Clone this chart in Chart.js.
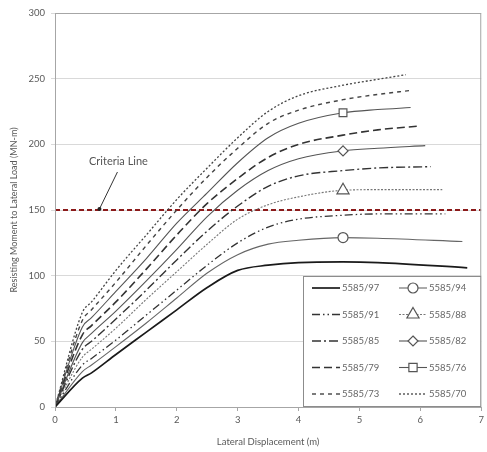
<!DOCTYPE html>
<html>
<head>
<meta charset="utf-8">
<script src="https://cdn.jsdelivr.net/npm/chart.js@4/dist/chart.umd.min.js"></script>
<style>
  html, body { margin: 0; padding: 0; background: #fff; }
  #wrap { width: 487px; height: 452px; position: relative; }
</style>
</head>
<body>
<div id="wrap"><canvas id="chart"></canvas></div>
<script>
// displacement grid shared by all curves (m), last point of each curve is its own end
const dispGrid = [0, 0.45, 0.6, 1, 1.5, 2, 2.5, 3, 3.5, 4, 4.73, 5.3];
const endDisp = [6.77, 6.69, 6.41, 6.36, 6.17, 6.08, 6.0, 5.84, 5.84, 5.76];

const seriesNames = ['5585/97','5585/94','5585/91','5585/88','5585/85','5585/82','5585/79','5585/76','5585/73','5585/70'];

const m97 = [0, 22, 26, 40, 57, 74, 91, 104, 108, 110, 110.5, 110, 106];
const m94 = [0, 27, 32, 46, 64, 83, 102, 116, 124, 127, 129, 128.5, 126];
const m91 = [0, 32, 37, 51, 70, 89, 108, 125, 137, 143, 146, 147, 147];
const m88 = [0, 38, 44, 60, 82, 103, 124, 143, 154, 160, 165, 165.5, 165.5];
const m85 = [0, 44, 50, 67, 89, 112, 134, 153, 168, 176, 180, 182, 183];
const m82 = [0, 49, 56, 73, 96, 120, 145, 165, 180, 189, 195, 197, 199];
const m79 = [0, 55, 62, 80, 105, 131, 155, 174, 190, 200, 207, 211, 214];
const m76 = [0, 61, 68, 88, 113, 140, 163, 186, 205, 216, 224, 226.5, 228];
const m73 = [0, 66, 74, 95, 123, 150, 175, 197, 216, 226, 234, 238, 241];
const m70 = [0, 72, 80, 104, 131, 158, 182, 205, 225, 237, 245, 249.5, 253];

const moments = [m97, m94, m91, m88, m85, m82, m79, m76, m73, m70];

const criteriaValue = 150;
const xTicks = [0, 1, 2, 3, 4, 5, 6, 7];
const yTicks = [0, 50, 100, 150, 200, 250, 300];

// line look per series
const styles = [
  { color: '#1a1a1a', width: 1.7, dash: [] },
  { color: '#666', width: 1.1, dash: [], marker: 'circle', r: 5 },
  { color: '#333', width: 1.3, dash: [8, 3, 1.5, 3, 1.5, 3] },
  { color: '#777', width: 1.1, dash: [2, 1.5], marker: 'triangle', r: 7 },
  { color: '#333', width: 1.4, dash: [9, 3, 2, 3] },
  { color: '#555', width: 1.1, dash: [], marker: 'rectRot', r: 5 },
  { color: '#333', width: 1.6, dash: [8, 4] },
  { color: '#555', width: 1.1, dash: [], marker: 'rect', r: 5.5 },
  { color: '#444', width: 1.4, dash: [4, 4] },
  { color: '#444', width: 1.3, dash: [2, 2] }
];
const markerIdx = 10;

const datasets = seriesNames.map((name, i) => {
  const xs = dispGrid.concat([endDisp[i]]);
  const st = styles[i];
  return {
    label: name,
    data: moments[i].map((v, j) => ({ x: xs[j], y: v })),
    borderColor: st.color,
    borderWidth: st.width,
    borderDash: st.dash,
    cubicInterpolationMode: 'monotone',
    pointStyle: st.marker || 'circle',
    pointRadius: moments[i].map((v, j) => (st.marker && j === markerIdx) ? st.r : 0),
    pointBackgroundColor: '#fff',
    pointBorderColor: '#555',
    pointBorderWidth: 1.2,
    fill: false
  };
});

datasets.push({
  label: 'Criteria',
  data: [{ x: 0, y: criteriaValue }, { x: 7, y: criteriaValue }],
  borderColor: '#8b1a1a',
  borderWidth: 2,
  borderDash: [5, 3],
  pointRadius: 0,
  fill: false
});

function drawMarker(ctx, style, r, x, y) {
  ctx.save();
  ctx.setLineDash([]);
  ctx.fillStyle = '#fff';
  ctx.strokeStyle = '#555';
  ctx.lineWidth = 1.2;
  ctx.beginPath();
  if (style === 'circle') {
    ctx.arc(x, y, r, 0, Math.PI * 2);
  } else if (style === 'triangle') {
    ctx.moveTo(x, y - r);
    ctx.lineTo(x + r * 0.87, y + r * 0.5);
    ctx.lineTo(x - r * 0.87, y + r * 0.5);
    ctx.closePath();
  } else if (style === 'rectRot') {
    ctx.moveTo(x, y - r);
    ctx.lineTo(x + r, y);
    ctx.lineTo(x, y + r);
    ctx.lineTo(x - r, y);
    ctx.closePath();
  } else {
    const s = r * 0.75;
    ctx.rect(x - s, y - s, s * 2, s * 2);
  }
  ctx.fill();
  ctx.stroke();
  ctx.restore();
}

const extras = {
  id: 'extras',
  afterDatasetsDraw(chart) {
    const ctx = chart.ctx;
    const a = chart.chartArea;
    const xs = chart.scales.x, ys = chart.scales.y;

    // frame round the plot
    ctx.save();
    ctx.strokeStyle = '#a6a6a6';
    ctx.lineWidth = 1;
    ctx.strokeRect(a.left + 0.5, a.top + 0.5, a.right - a.left - 1, a.bottom - a.top);

    // criteria label and leader
    const px = xs.getPixelForValue(0.73), py = ys.getPixelForValue(criteriaValue);
    ctx.strokeStyle = '#333';
    ctx.lineWidth = 1;
    ctx.beginPath();
    ctx.moveTo(px + 18, py - 38);
    ctx.lineTo(px, py - 1);
    ctx.stroke();
    ctx.fillStyle = '#222';
    ctx.beginPath();
    ctx.arc(px, py - 1, 2, 0, Math.PI * 2);
    ctx.fill();
    ctx.fillStyle = '#555';
    ctx.font = '11px Lato';
    ctx.textAlign = 'center';
    ctx.textBaseline = 'middle';
    ctx.fillText('Criteria Line', px + 19, py - 49);

    // legend box
    const lx = 303, ly = 276, lw = a.right - 303, lh = a.bottom - 276;
    ctx.fillStyle = '#fff';
    ctx.fillRect(lx, ly, lw, lh);
    ctx.strokeStyle = '#8c8c8c';
    ctx.strokeRect(lx + 0.5, ly + 0.5, lw - 1, lh - 1);
    ctx.font = '9.5px Lato';
    ctx.textAlign = 'left';
    seriesNames.forEach((name, i) => {
      const col = i % 2, row = Math.floor(i / 2);
      const st = styles[i];
      const y = 288 + row * 26.5;
      const x0 = col === 0 ? 312 : 399;
      const x1 = col === 0 ? 340 : 427;
      ctx.save();
      ctx.strokeStyle = st.color;
      ctx.lineWidth = st.width;
      ctx.setLineDash(st.dash);
      ctx.beginPath();
      ctx.moveTo(x0, y);
      ctx.lineTo(x1, y);
      ctx.stroke();
      ctx.restore();
      if (st.marker) drawMarker(ctx, st.marker, st.r, (x0 + x1) / 2, y);
      ctx.fillStyle = '#666';
      ctx.fillText(name, x1 + 2, y);
    });
    ctx.restore();
  }
};

Chart.defaults.font.family = 'Lato';
Chart.defaults.font.size = 9;
Chart.defaults.color = '#595959';

new Chart(document.getElementById('chart'), {
  type: 'line',
  data: { datasets: datasets },
  options: {
    responsive: true,
    maintainAspectRatio: false,
    animation: false,
    events: [],
    layout: { padding: { top: 13, right: 3, left: 0, bottom: 0 } },
    plugins: {
      legend: { display: false },
      tooltip: { enabled: false }
    },
    scales: {
      x: {
        type: 'linear',
        min: 0, max: 7,
        afterBuildTicks: s => { s.ticks = xTicks.map(v => ({ value: v })); },
        afterFit: s => { s.height = 45; },
        grid: { drawOnChartArea: false, drawTicks: true, tickLength: 4, color: '#a6a6a6' },
        border: { color: '#a6a6a6' },
        ticks: { padding: 3, font: { size: 9.5 } },
        title: { display: true, text: 'Lateral Displacement (m)', font: { size: 9.5 }, padding: { top: 0, bottom: 4 } }
      },
      y: {
        min: 0, max: 300,
        afterBuildTicks: s => { s.ticks = yTicks.map(v => ({ value: v })); },
        afterFit: s => { s.width = 55; },
        grid: { color: '#d9d9d9', tickLength: 4 },
        border: { color: '#a6a6a6' },
        ticks: { padding: 6, font: { size: 9.5 } },
        title: { display: true, text: 'Resisting Moment to Lateral Load (MN-m)', font: { size: 9 }, padding: { top: 9, bottom: 0 } }
      }
    }
  },
  plugins: [extras]
});
</script>
</body>
</html>
